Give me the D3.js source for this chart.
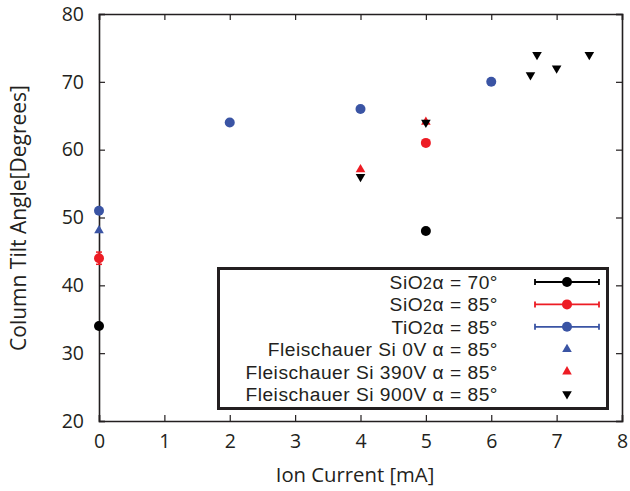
<!DOCTYPE html>
<html><head><meta charset="utf-8">
<script src="https://cdn.jsdelivr.net/npm/d3@7"></script>
<style>body{margin:0;background:#fff}text{font-family:"Open Sans","Noto Sans",sans-serif;fill:#231f20}</style>
</head><body><svg id="c" width="630" height="491"></svg>
<script>
const xTicks = [0,1,2,3,4,5,6,7,8];
const yTicks = [20,30,40,50,60,70,80];
const sio2_70 = [{x:0,y:34},{x:5,y:48}];
const sio2_85 = [{x:0,y:44,err:0.9},{x:5,y:61}];
const tio2_85 = [{x:0,y:51},{x:2,y:64},{x:4,y:66},{x:6,y:70}];
const fl_0v = [{x:0,y:48}];
const fl_390v = [{x:4,y:57},{x:5,y:64}];
const fl_900v = [{x:4,y:56},{x:5,y:64},{x:6.6,y:71},{x:6.7,y:74},{x:7,y:72},{x:7.5,y:74}];
const legendLabels = [
  {pre:"SiO", sub:"2", post:"\u03b1 = 70\u00b0"},
  {pre:"SiO", sub:"2", post:"\u03b1 = 85\u00b0"},
  {pre:"TiO", sub:"2", post:"\u03b1 = 85\u00b0"},
  {pre:"Fleischauer Si 0V ", sub:"", post:"\u03b1 = 85\u00b0"},
  {pre:"Fleischauer Si 390V ", sub:"", post:"\u03b1 = 85\u00b0"},
  {pre:"Fleischauer Si 900V ", sub:"", post:"\u03b1 = 85\u00b0"}
];

const svg = d3.select("#c");
const L=99,R=622,T=14,B=421;
const x = d3.scaleLinear().domain([0,8]).range([L,R]);
const y = d3.scaleLinear().domain([20,80]).range([B,T]);
const ink="#231f20";
const RED="#ed1c24", BLUE="#3a54a4", BLK="#000";

const tl=6;
svg.append("g").attr("transform",`translate(0,${B})`).call(d3.axisBottom(x).tickValues(xTicks).tickSize(-tl).tickPadding(13).tickFormat(d3.format("d")));
svg.append("g").attr("transform",`translate(0,${T})`).call(d3.axisTop(x).tickValues(xTicks).tickSize(-tl).tickFormat(""));
svg.append("g").attr("transform",`translate(${L},0)`).call(d3.axisLeft(y).tickValues(yTicks).tickSize(-tl).tickPadding(15).tickFormat(d3.format("d")));
svg.append("g").attr("transform",`translate(${R},0)`).call(d3.axisRight(y).tickValues(yTicks).tickSize(-tl).tickFormat(""));
svg.selectAll(".domain").attr("stroke",ink).attr("stroke-width",1.6);
svg.selectAll(".tick line").attr("stroke",ink).attr("stroke-width",1.2);
svg.selectAll(".tick text").attr("font-size",19.5).attr("fill",ink).style("font-family",'"Open Sans",sans-serif');

svg.append("text").attr("x",355).attr("y",482).attr("text-anchor","middle").attr("font-size",20.3).text("Ion Current [mA]");
svg.append("text").attr("transform",`translate(26,218) rotate(-90)`).attr("text-anchor","middle").attr("font-size",21).text("Column Tilt Angle[Degrees]");

const tri = d3.symbol().type(d3.symbolTriangle).size(40);
function circles(data,color){
  data.forEach(d=>{
    if(d.err){
      svg.append("line").attr("x1",x(d.x)).attr("x2",x(d.x)).attr("y1",y(d.y-d.err)).attr("y2",y(d.y+d.err)).attr("stroke",color).attr("stroke-width",1.5);
      [d.y-d.err,d.y+d.err].forEach(v=>svg.append("line").attr("x1",x(d.x)-3).attr("x2",x(d.x)+3).attr("y1",y(v)).attr("y2",y(v)).attr("stroke",color).attr("stroke-width",1.5));
    }
  });
  svg.append("g").selectAll("circle").data(data).join("circle").attr("cx",d=>x(d.x)).attr("cy",d=>y(d.y)).attr("r",5).attr("fill",color);
}
function tris(data,color,down){
  svg.append("g").selectAll("path").data(data).join("path").attr("d",tri)
    .attr("transform",d=>`translate(${x(d.x)},${y(d.y)+(down?0:-0.5)}) rotate(${down?180:0})`).attr("fill",color);
}
circles(sio2_70,BLK);
circles(sio2_85,RED);
circles(tio2_85,BLUE);
tris(fl_0v,BLUE,false);
tris(fl_390v,RED,false);
tris(fl_900v,BLK,true);

svg.append("rect").attr("x",218.5).attr("y",268.5).attr("width",389).attr("height",140).attr("fill","#fff").attr("stroke",ink).attr("stroke-width",3);
const colors=[BLK,RED,BLUE,BLUE,RED,BLK];
legendLabels.forEach((lab,i)=>{
  const yy=282+i*22.4;
  const t=svg.append("text").attr("x",498).attr("y",yy+7).attr("text-anchor","end").attr("font-size",19.2)
    .attr("letter-spacing",0.5).style("font-family",'"Liberation Sans",Arial,sans-serif');
  t.append("tspan").text(lab.pre);
  if(lab.sub) t.append("tspan").attr("font-size",16).text(lab.sub);
  t.append("tspan").text(lab.post);
  if(i<3){
    svg.append("line").attr("x1",535).attr("x2",599).attr("y1",yy).attr("y2",yy).attr("stroke",colors[i]).attr("stroke-width",1.8);
    [535,599].forEach(xx=>svg.append("line").attr("x1",xx).attr("x2",xx).attr("y1",yy-3).attr("y2",yy+3).attr("stroke",colors[i]).attr("stroke-width",1.8));
    svg.append("circle").attr("cx",567).attr("cy",yy).attr("r",5).attr("fill",colors[i]);
  } else {
    svg.append("path").attr("d",tri).attr("transform",`translate(567,${yy}) rotate(${i===5?180:0})`).attr("fill",colors[i]);
  }
});
</script></body></html>
